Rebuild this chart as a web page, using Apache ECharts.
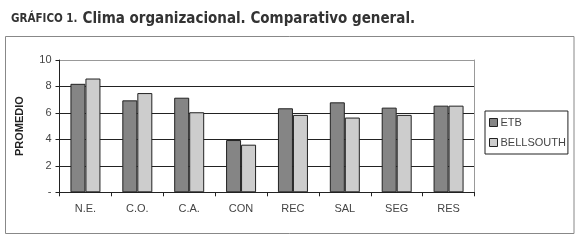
<!DOCTYPE html>
<html><head><meta charset="utf-8">
<script src="https://cdn.jsdelivr.net/npm/echarts@6/dist/echarts.min.js"></script>
<style>html,body{margin:0;padding:0;background:#fff}#c{width:580px;height:240px}</style>
</head><body><div id="c"></div>
<script>
const categories = ['N.E.', 'C.O.', 'C.A.', 'CON', 'REC', 'SAL', 'SEG', 'RES'];
const etb = [8.2, 6.95, 7.15, 3.95, 6.35, 6.8, 6.4, 6.55];
const bellsouth = [8.6, 7.5, 6.05, 3.6, 5.85, 5.65, 5.85, 6.55];
const yTicks = [0, 2, 4, 6, 8, 10];
const seriesNames = ['ETB', 'BELLSOUTH'];

const chart = echarts.init(document.getElementById('c'), null, {renderer: 'canvas'});
const lab = {fontFamily: 'Liberation Sans, Arial, sans-serif', fontSize: 11, color: '#444'};
chart.setOption({
  animation: false,
  backgroundColor: '#fff',
  title: {
    left: 6, top: 5,
    text: '{a|GRÁFICO 1.} {b|Clima organizacional. Comparativo general.}',
    textStyle: {
      rich: {
        a: {fontFamily: 'DejaVu Sans Condensed, sans-serif', fontWeight: 'bold', fontSize: 11.5, color: '#333'},
        b: {fontFamily: 'DejaVu Sans Condensed, sans-serif', fontWeight: 'bold', fontSize: 15, color: '#333'}
      }
    }
  },
  graphic: [{
    type: 'rect', shape: {x: 5.5, y: 36.5, width: 568.5, height: 197}, silent: true,
    style: {fill: 'none', stroke: '#888', lineWidth: 1}
  }],
  legend: {
    data: seriesNames, orient: 'vertical', left: 485, top: 111,
    borderColor: '#222', borderWidth: 1, padding: [6, 2, 6, 4],
    itemWidth: 8, itemHeight: 8, itemGap: 9, icon: 'rect',
    itemStyle: {borderColor: '#222', borderWidth: 1},
    textStyle: Object.assign({}, lab, {padding: [0, 0, 0, -2]})
  },
  grid: {left: 59.5, right: 105.5, top: 60, bottom: 47.7},
  xAxis: {
    type: 'category', data: categories,
    axisLine: {lineStyle: {color: '#222'}},
    axisTick: {show: true, length: 4, lineStyle: {color: '#222'}},
    axisLabel: Object.assign({}, lab, {margin: 11})
  },
  yAxis: [{
    type: 'value', min: 0, max: 10, interval: 2,
    name: 'PROMEDIO', nameLocation: 'middle', nameGap: 34, nameRotate: 90,
    nameTextStyle: {fontFamily: 'Liberation Sans, Arial, sans-serif', fontWeight: 'bold', fontSize: 11, color: '#222'},
    axisLine: {show: true, lineStyle: {color: '#222'}},
    axisTick: {show: true, length: 4, lineStyle: {color: '#222'}},
    axisLabel: Object.assign({}, lab, {margin: 8, formatter: v => yTicks.indexOf(v) === 0 ? '-' : String(v)}),
    splitLine: {show: true, lineStyle: {color: ['#222', '#222', '#222', '#222', '#222', '#999'], width: 1}}
  }, {
    type: 'value', min: 0, max: 10, interval: 2, position: 'right',
    axisLine: {show: true, lineStyle: {color: '#999'}},
    axisTick: {show: false}, axisLabel: {show: false}, splitLine: {show: false}
  }],
  series: [{
    name: seriesNames[0], type: 'bar', data: etb, barWidth: 15, barGap: '0%',
    itemStyle: {color: '#858585', borderColor: '#222', borderWidth: 1}
  }, {
    name: seriesNames[1], type: 'bar', data: bellsouth, barWidth: 15, barGap: '0%',
    itemStyle: {color: '#cdcdcd', borderColor: '#222', borderWidth: 1}
  }]
});
</script></body></html>
